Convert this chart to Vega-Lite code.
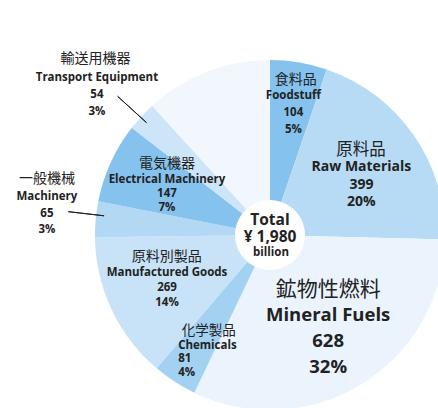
{
  "$schema": "https://vega.github.io/schema/vega-lite/v6.json",
  "width": 438,
  "height": 408,
  "autosize": "none",
  "padding": 0,
  "background": "white",
  "config": {"view": {"stroke": null}},
  "data": {
    "values": [
      {"k": 1, "ja": "食料品", "en": "Foodstuff", "v": 104, "pct": "5%", "lab": ["Foodstuff", "104", "5%"]},
      {"k": 2, "ja": "原料品", "en": "Raw Materials", "v": 399, "pct": "20%", "lab": ["Raw Materials", "399", "20%"]},
      {"k": 3, "ja": "鉱物性燃料", "en": "Mineral Fuels", "v": 628, "pct": "32%", "lab": ["Mineral Fuels", "628", "32%"]},
      {"k": 4, "ja": "化学製品", "en": "Chemicals", "v": 81, "pct": "4%", "lab": ["Chemicals", "81", "4%"]},
      {"k": 5, "ja": "原料別製品", "en": "Manufactured Goods", "v": 269, "pct": "14%", "lab": ["Manufactured Goods", "269", "14%"]},
      {"k": 6, "ja": "一般機械", "en": "Machinery", "v": 65, "pct": "3%", "lab": ["Machinery", "65", "3%"]},
      {"k": 7, "ja": "電気機器", "en": "Electrical Machinery", "v": 147, "pct": "7%", "lab": ["Electrical Machinery", "147", "7%"]},
      {"k": 8, "ja": "輸送用機器", "en": "Transport Equipment", "v": 54, "pct": "3%", "lab": ["Transport Equipment", "54", "3%"]},
      {"k": 9, "ja": "その他", "en": "Others", "v": 233, "pct": "12%", "lab": []}
    ]
  },
  "layer": [
    {
      "mark": {"type": "arc", "x": 270, "y": 235, "radius": 175, "radius2": 35},
      "encoding": {
        "theta": {"field": "v", "type": "quantitative", "stack": true},
        "order": {"field": "k", "type": "quantitative"},
        "color": {
          "field": "en", "type": "nominal", "legend": null,
          "scale": {
            "domain": ["Foodstuff", "Raw Materials", "Mineral Fuels", "Chemicals", "Manufactured Goods", "Machinery", "Electrical Machinery", "Transport Equipment", "Others"],
            "range": ["#85c3ee", "#b7dbf5", "#ebf4fd", "#a3d1f2", "#c8e2f7", "#b3d8f4", "#85c3ee", "#cde5f8", "#f2f7fd"]
          }
        }
      }
    },
    {
      "data": {"values": [{}]},
      "mark": {"type": "arc", "x": 270, "y": 235, "theta": 5.4507, "theta2": 5.4507, "radius": 206, "radius2": 167, "stroke": "#222", "strokeWidth": 1, "fill": null}
    },
    {
      "data": {"values": [{}]},
      "mark": {"type": "arc", "x": 270, "y": 235, "theta": 4.8276, "theta2": 4.8276, "radius": 203, "radius2": 167, "stroke": "#222", "strokeWidth": 1, "fill": null}
    },
    {
      "data": {"values": [{}]},
      "mark": {"type": "text", "x": 270, "y": 235, "dy": -15.5, "text": ["Total", "¥ 1,980"], "font": "Open Sans", "fontWeight": "bold", "fontSize": 15.5, "lineHeight": 17, "fill": "#222", "baseline": "middle", "align": "center"}
    },
    {
      "data": {"values": [{}]},
      "mark": {"type": "text", "x": 271, "y": 235, "dy": 17.5, "text": "billion", "font": "Open Sans", "fontWeight": "bold", "fontSize": 11.5, "fill": "#222", "baseline": "middle", "align": "center"}
    },

    {"mark": {"type": "text", "x": 270, "y": 235, "radius": 157, "dx": 0, "dy": 0, "font": "Noto Sans CJK JP", "fontSize": 14, "fill": "#222"},
     "encoding": {"theta": {"field": "v", "type": "quantitative", "stack": true}, "order": {"field": "k", "type": "quantitative"}, "text": {"condition": {"test": "datum.k == 1", "field": "ja"}, "value": ""}}},
    {"mark": {"type": "text", "x": 270, "y": 235, "radius": 124, "dx": 3, "dy": -17, "font": "Open Sans", "fontWeight": "bold", "fontSize": 11.5, "lineHeight": 17, "fill": "#222"},
     "encoding": {"theta": {"field": "v", "type": "quantitative", "stack": true}, "order": {"field": "k", "type": "quantitative"}, "text": {"condition": {"test": "datum.k == 1", "field": "lab"}, "value": ""}}},

    {"mark": {"type": "text", "x": 270, "y": 235, "radius": 123, "dx": -10, "dy": -15, "font": "Noto Sans CJK JP", "fontSize": 16.5, "fill": "#222"},
     "encoding": {"theta": {"field": "v", "type": "quantitative", "stack": true}, "order": {"field": "k", "type": "quantitative"}, "text": {"condition": {"test": "datum.k == 2", "field": "ja"}, "value": ""}}},
    {"mark": {"type": "text", "x": 270, "y": 235, "radius": 104, "dx": 6, "dy": -8.5, "font": "Open Sans", "fontWeight": "bold", "fontSize": 14, "lineHeight": 17.5, "fill": "#222"},
     "encoding": {"theta": {"field": "v", "type": "quantitative", "stack": true}, "order": {"field": "k", "type": "quantitative"}, "text": {"condition": {"test": "datum.k == 2", "field": "lab"}, "value": ""}}},

    {"mark": {"type": "text", "x": 270, "y": 235, "radius": 77, "dx": 18, "dy": -11, "font": "Noto Sans CJK JP", "fontSize": 21, "fill": "#222"},
     "encoding": {"theta": {"field": "v", "type": "quantitative", "stack": true}, "order": {"field": "k", "type": "quantitative"}, "text": {"condition": {"test": "datum.k == 3", "field": "ja"}, "value": ""}}},
    {"mark": {"type": "text", "x": 270, "y": 235, "radius": 121, "dx": -5, "dy": -23, "font": "Open Sans", "fontWeight": "bold", "fontSize": 18.5, "lineHeight": 26, "fill": "#222"},
     "encoding": {"theta": {"field": "v", "type": "quantitative", "stack": true}, "order": {"field": "k", "type": "quantitative"}, "text": {"condition": {"test": "datum.k == 3", "field": "lab"}, "value": ""}}},

    {"mark": {"type": "text", "x": 270, "y": 235, "radius": 129, "dx": -18, "dy": -12.5, "align": "left", "font": "Noto Sans CJK JP", "fontSize": 13.5, "fill": "#222"},
     "encoding": {"theta": {"field": "v", "type": "quantitative", "stack": true}, "order": {"field": "k", "type": "quantitative"}, "text": {"condition": {"test": "datum.k == 4", "field": "ja"}, "value": ""}}},
    {"mark": {"type": "text", "x": 270, "y": 235, "radius": 154, "dx": -8, "dy": -18.5, "align": "left", "font": "Open Sans", "fontWeight": "bold", "fontSize": 11.5, "lineHeight": 13.5, "fill": "#222"},
     "encoding": {"theta": {"field": "v", "type": "quantitative", "stack": true}, "order": {"field": "k", "type": "quantitative"}, "text": {"condition": {"test": "datum.k == 4", "field": "lab"}, "value": ""}}},

    {"mark": {"type": "text", "x": 270, "y": 235, "radius": 103, "dx": -10, "dy": -22, "font": "Noto Sans CJK JP", "fontSize": 14, "fill": "#222"},
     "encoding": {"theta": {"field": "v", "type": "quantitative", "stack": true}, "order": {"field": "k", "type": "quantitative"}, "text": {"condition": {"test": "datum.k == 5", "field": "ja"}, "value": ""}}},
    {"mark": {"type": "text", "x": 270, "y": 235, "radius": 116, "dx": 2, "dy": -11, "font": "Open Sans", "fontWeight": "bold", "fontSize": 11.5, "lineHeight": 15, "fill": "#222"},
     "encoding": {"theta": {"field": "v", "type": "quantitative", "stack": true}, "order": {"field": "k", "type": "quantitative"}, "text": {"condition": {"test": "datum.k == 5", "field": "lab"}, "value": ""}}},

    {"mark": {"type": "text", "x": 270, "y": 235, "radius": 227, "dx": 3, "dy": -35, "font": "Noto Sans CJK JP", "fontSize": 14, "fill": "#222"},
     "encoding": {"theta": {"field": "v", "type": "quantitative", "stack": true}, "order": {"field": "k", "type": "quantitative"}, "text": {"condition": {"test": "datum.k == 6", "field": "ja"}, "value": ""}}},
    {"mark": {"type": "text", "x": 270, "y": 235, "radius": 224, "dx": 0, "dy": -17.5, "font": "Open Sans", "fontWeight": "bold", "fontSize": 11.5, "lineHeight": 16.5, "fill": "#222"},
     "encoding": {"theta": {"field": "v", "type": "quantitative", "stack": true}, "order": {"field": "k", "type": "quantitative"}, "text": {"condition": {"test": "datum.k == 6", "field": "lab"}, "value": ""}}},

    {"mark": {"type": "text", "x": 270, "y": 235, "radius": 123, "dx": 9, "dy": -20, "font": "Noto Sans CJK JP", "fontSize": 14, "fill": "#222"},
     "encoding": {"theta": {"field": "v", "type": "quantitative", "stack": true}, "order": {"field": "k", "type": "quantitative"}, "text": {"condition": {"test": "datum.k == 7", "field": "ja"}, "value": ""}}},
    {"mark": {"type": "text", "x": 270, "y": 235, "radius": 111, "dx": -2, "dy": -9.5, "font": "Open Sans", "fontWeight": "bold", "fontSize": 11.5, "lineHeight": 14, "fill": "#222"},
     "encoding": {"theta": {"field": "v", "type": "quantitative", "stack": true}, "order": {"field": "k", "type": "quantitative"}, "text": {"condition": {"test": "datum.k == 7", "field": "lab"}, "value": ""}}},

    {"mark": {"type": "text", "x": 270, "y": 235, "radius": 247, "dx": 7, "dy": -8, "font": "Noto Sans CJK JP", "fontSize": 14, "fill": "#222"},
     "encoding": {"theta": {"field": "v", "type": "quantitative", "stack": true}, "order": {"field": "k", "type": "quantitative"}, "text": {"condition": {"test": "datum.k == 8", "field": "ja"}, "value": ""}}},
    {"mark": {"type": "text", "x": 270, "y": 235, "radius": 222, "dx": -10, "dy": -6, "font": "Open Sans", "fontWeight": "bold", "fontSize": 11.5, "lineHeight": 17, "fill": "#222"},
     "encoding": {"theta": {"field": "v", "type": "quantitative", "stack": true}, "order": {"field": "k", "type": "quantitative"}, "text": {"condition": {"test": "datum.k == 8", "field": "lab"}, "value": ""}}}
  ]
}
